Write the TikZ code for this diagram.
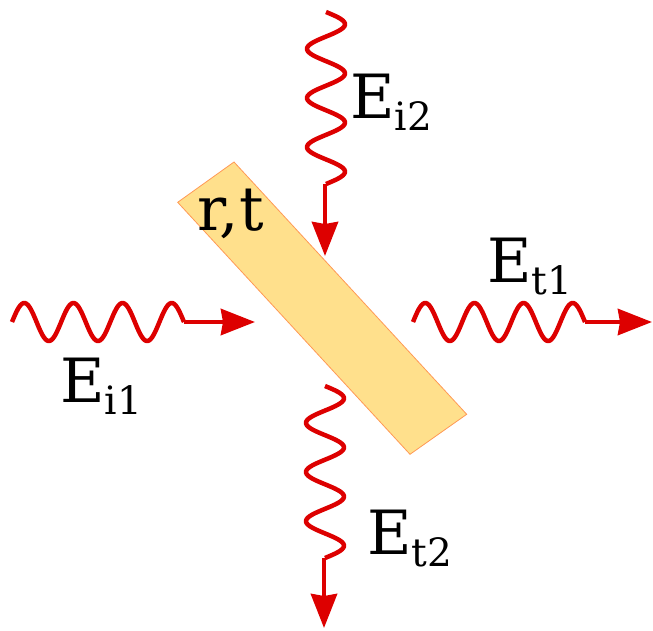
\documentclass[tikz,border=0pt]{standalone}
\usepackage{fontspec}
\setmainfont{DejaVu Serif}
\usepackage{tikz}
\usetikzlibrary{arrows.meta}
\definecolor{waveRed}{HTML}{DD0000}
\definecolor{splitFill}{HTML}{FFE08C}
\definecolor{splitEdge}{HTML}{FF9955}
\newcommand{\fieldE}[1]{E\raisebox{-12pt}{\fontsize{39}{39}\selectfont #1}}
\tikzset{
  wave/.style={draw=waveRed,line width=4.5pt,smooth,samples=120},
  ray/.style={-{Stealth[length=34pt,width=26pt,inset=2pt]},draw=waveRed,fill=waveRed,line width=4.5pt},
  splitter/.style={fill=splitFill,draw=splitEdge,line width=0.8pt},
  fieldlabel/.style={font=\fontsize{61}{61}\selectfont,inner sep=0pt,anchor=base west},
}

\begin{document}
\begin{tikzpicture}[x=1pt,y=-1pt]
  \useasboundingbox (0,0) rectangle (653,630);

  % beam splitter
  \draw[splitter] (177.7,202.3) -- (234,162) -- (466.7,414.3) -- (410,454.3) -- cycle;
  \node[fieldlabel] (rt) at (197,230) {r,t};

  % incoming fields (wavelength 49.14, so 360/49.14 = 7.326 deg per pt)
  \coordinate (i1s) at (12,322);
  \coordinate (i1e) at (184,322);
  \coordinate (i1tip) at (255,322);
  \draw[wave, shift={(i1s)}] plot[domain=0:172] (\x,{-19*sin(7.326*\x)});
  \draw[ray] (i1e) -- (i1tip);
  \node[fieldlabel] (Ei1) at (60,402) {\fieldE{i1}};

  \coordinate (i2s) at (326,12);
  \coordinate (i2e) at (325,184);
  \coordinate (i2tip) at (325,256);
  \draw[wave, shift={(i2s)}] plot[domain=0:172] ({19*sin(7.326*\x)},\x);
  \draw[ray] (i2e) -- (i2tip);
  \node[fieldlabel] (Ei2) at (350,118) {\fieldE{i2}};

  % outgoing fields
  \coordinate (t1s) at (413,322);
  \coordinate (t1e) at (585,322);
  \coordinate (t1tip) at (652,322);
  \draw[wave, shift={(t1s)}] plot[domain=0:172] (\x,{-19*sin(7.326*\x)});
  \draw[ray] (t1e) -- (t1tip);
  \node[fieldlabel] (Et1) at (487,282) {\fieldE{t1}};

  \coordinate (t2s) at (325,386);
  \coordinate (t2e) at (324,558);
  \coordinate (t2tip) at (324,628);
  \draw[wave, shift={(t2s)}] plot[domain=0:172] ({19*sin(7.326*\x)},\x);
  \draw[ray] (t2e) -- (t2tip);
  \node[fieldlabel] (Et2) at (367,554) {\fieldE{t2}};
\end{tikzpicture}
\end{document}
